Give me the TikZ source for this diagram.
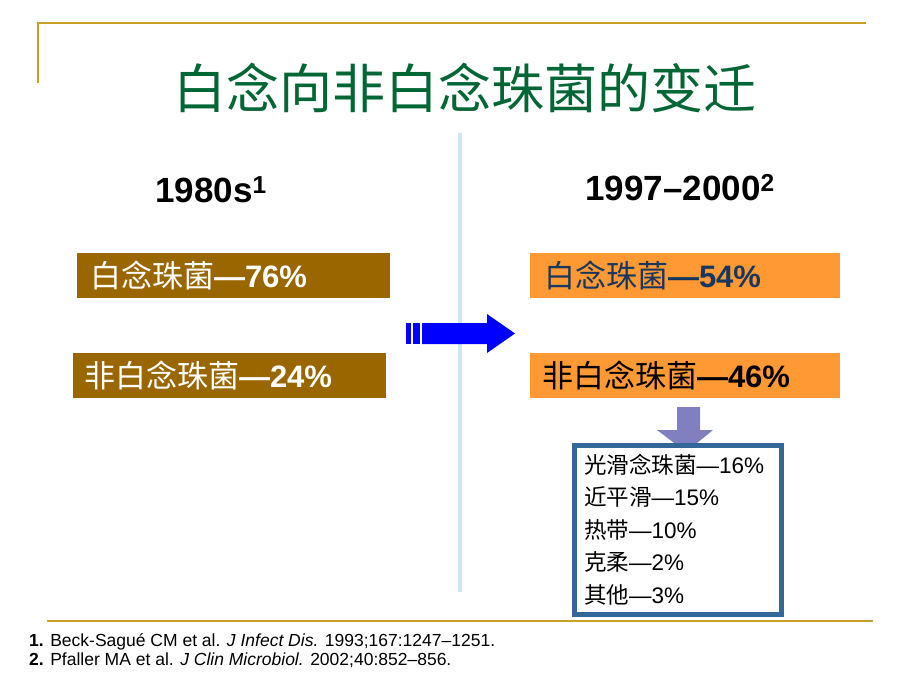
\documentclass[tikz,border=0pt]{standalone}
\usepackage{fontspec}
\setmainfont{Liberation Sans}
\newfontfamily\cjk{Noto Sans CJK SC}
\usetikzlibrary{positioning}

\definecolor{gold}{RGB}{200,160,40}
\definecolor{titlegreen}{RGB}{0,102,51}
\definecolor{sepblue}{RGB}{204,232,248}
\definecolor{oldbrown}{RGB}{153,102,0}
\definecolor{neworange}{RGB}{255,153,51}
\definecolor{navy}{RGB}{23,55,94}
\definecolor{shiftblue}{RGB}{0,0,255}
\definecolor{downpurple}{RGB}{128,128,192}
\definecolor{framesteel}{RGB}{51,102,153}

\newcommand{\zh}[1]{{\cjk #1}}

\tikzset{
  goldline/.style={gold,line width=2pt},
  ratebox/.style={minimum height=45pt,inner xsep=13pt,inner ysep=0pt,align=left,
    font=\fontsize{31}{34}\selectfont},
  oldbox/.style={ratebox,fill=oldbrown,text=white,text width=287pt},
  newbox/.style={ratebox,fill=neworange,text width=282pt,inner xsep=14pt},
  period/.style={font=\fontsize{35}{40}\selectfont\bfseries},
  listframe/.style={draw=framesteel,line width=5pt,fill=white,minimum width=207pt,minimum height=169pt},
  listtext/.style={align=left,inner sep=0pt,font=\fontsize{22.5}{32.5}\selectfont},
  refline/.style={inner sep=0pt,font=\fontsize{17.5}{19}\selectfont}
}

\begin{document}
\begin{tikzpicture}[x=1pt,y=-1pt]
  \useasboundingbox[fill=white] (0,0) rectangle (920,690);

  % frame lines and title
  \draw[goldline] (38,83) -- (38,23) -- (866,23);
  \draw[goldline] (47,621) -- (873,621);
  \node[text=titlegreen,font=\fontsize{53}{56}\selectfont\cjk] (title) at (465,88) {白念向非白念珠菌的变迁};
  \draw[sepblue,line width=4pt] (460,133) -- (460,592);

  % two periods
  \node[period] (then) at (211,190) {1980s\textsuperscript{1}};
  \node[period] (now) at (680,188) {1997–2000\textsuperscript{2}};

  \node[oldbox] (oldalb) at (233.5,275.5) {\zh{白念珠菌}\textbf{—76\%}};
  \node[oldbox,inner xsep=11pt,text width=291pt] (oldnon) at (229.5,375.5) {\zh{非白念珠菌}\textbf{—24\%}};
  \node[newbox,text=navy] (newalb) at (685,275.5) {\zh{白念珠菌}\textbf{—54\%}};
  \node[newbox,inner xsep=12pt,text width=286pt] (newnon) at (685,375.5) {\zh{非白念珠菌}\textbf{—46\%}};

  % block arrows
  \fill[shiftblue] (406,323) rectangle (411,344);
  \fill[shiftblue] (413,323) rectangle (420,344);
  \fill[shiftblue] (422,323) -- (487,323) -- (487,314) -- (515,333.5) -- (487,353) -- (487,344) -- (422,344) -- cycle;
  \fill[downpurple] (677,407) -- (700,407) -- (700,430) -- (713,430) -- (686,452) -- (657,430) -- (677,430) -- cycle;

  % species breakdown
  \node[listframe] (others) at (678,530) {};
  \node[listtext,anchor=north west] (species) at ([xshift=12pt,yshift=-11pt]others.north west)
    {\zh{光滑念珠菌}—16\%\\\zh{近平滑}—15\%\\\zh{热带}—10\%\\\zh{克柔}—2\%\\\zh{其他}—3\%};

  % references
  \node[refline,anchor=base west] (ref1) at (29,646) {\textbf{1.} Beck-Sagué CM et al. \textit{J Infect Dis.} 1993;167:1247–1251.};
  \node[refline,anchor=base west] (ref2) at (29,665) {\textbf{2.} Pfaller MA et al. \textit{J Clin Microbiol.} 2002;40:852–856.};
\end{tikzpicture}
\end{document}
